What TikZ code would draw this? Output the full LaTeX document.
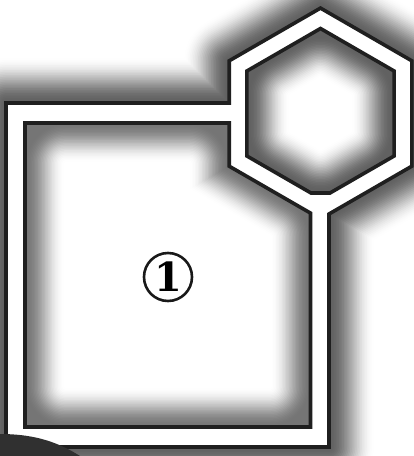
\documentclass[tikz,border=0pt]{standalone}
\usepackage{fontspec}
\newfontfamily\digitfont{DejaVu Serif}
\definecolor{blobgray}{HTML}{303030}
\tikzset{
  outerpath/.style={insert path={(6,103) -- (229.2,103) -- (229.2,60.8) -- (320.5,8.1) -- (411.8,60.8) -- (411.8,166.2) -- (329,214) -- (329,447) -- (6,447) -- cycle}},
  sqpath/.style={insert path={(25,123) -- (229.2,123) -- (229.2,166.2) -- (310.5,213.1) -- (310.5,427) -- (25,427) -- cycle}},
  sqcore/.style={insert path={(65,163) -- (189.2,163) -- (189.2,189.3) -- (270.5,236.2) -- (270.5,387) -- (65,387) -- cycle}},
  hexpath/.style={insert path={(320.5,28.5) -- (394.1,71) -- (394.1,156) -- (330,193) -- (311,193) -- (246.9,156) -- (246.9,71) -- cycle}},
  hexcore/.style={insert path={(320.5,78) -- (351.2,95.75) -- (351.2,131.25) -- (320.5,149) -- (289.8,131.25) -- (289.8,95.75) -- cycle}},
  contour/.style={draw=black!88, line width=3.6pt, line join=miter},
  glowline/.style={line join=round, line cap=round},
}
\begin{document}
\begin{tikzpicture}[x=1pt,y=-1pt]
\useasboundingbox (0,0) rectangle (414,456);
\fill[white] (0,0) rectangle (414,456);
% outer glow (offsets of the outer contour)
\foreach \i in {1,...,28} {
  \pgfmathsetmacro\glowlw{2*46*(1-(\i-1)/28)}
  \pgfmathsetmacro\glowg{62*(1+cos(180*(1-(\i-0.5)/28)))/2}
  \draw[glowline, line width=\glowlw pt, draw=black!\glowg, outerpath];
}
\fill[white, outerpath];
% inner square glow (offsets of a white core)
\begin{scope}
  \path[clip, sqpath];
  \fill[black!54, sqpath];
  \foreach \i in {1,...,28} {
    \pgfmathsetmacro\glowlw{2*40*(1-(\i-1)/28)}
    \pgfmathsetmacro\glowg{54*(1+cos(180*((\i-0.5)/28)))/2}
    \draw[glowline, line width=\glowlw pt, draw=black!\glowg, fill=black!\glowg, sqcore];
  }
  \fill[white, sqcore];
\end{scope}
% hexagon glow
\begin{scope}
  \path[clip, hexpath];
  \fill[black!62, hexpath];
  \foreach \i in {1,...,28} {
    \pgfmathsetmacro\glowlw{2*42*(1-(\i-1)/28)}
    \pgfmathsetmacro\glowg{62*(1+cos(180*((\i-0.5)/28)))/2}
    \draw[glowline, line width=\glowlw pt, draw=black!\glowg, fill=black!\glowg, hexcore];
  }
  \fill[white, hexcore];
\end{scope}
% contours
\draw[contour, outerpath];
\draw[contour, sqpath];
\draw[contour, hexpath];
% number
\node[circle, draw=black!90, line width=2.6pt, minimum size=48pt, inner sep=0pt,
      font=\digitfont\bfseries\fontsize{40}{40}\selectfont] (num) at (168,277) {1};
% dark blob at bottom left
\fill[blobgray] (0,434) .. controls (30,434) and (55,440) .. (80,456) -- (0,456) -- cycle;
\end{tikzpicture}
\end{document}
